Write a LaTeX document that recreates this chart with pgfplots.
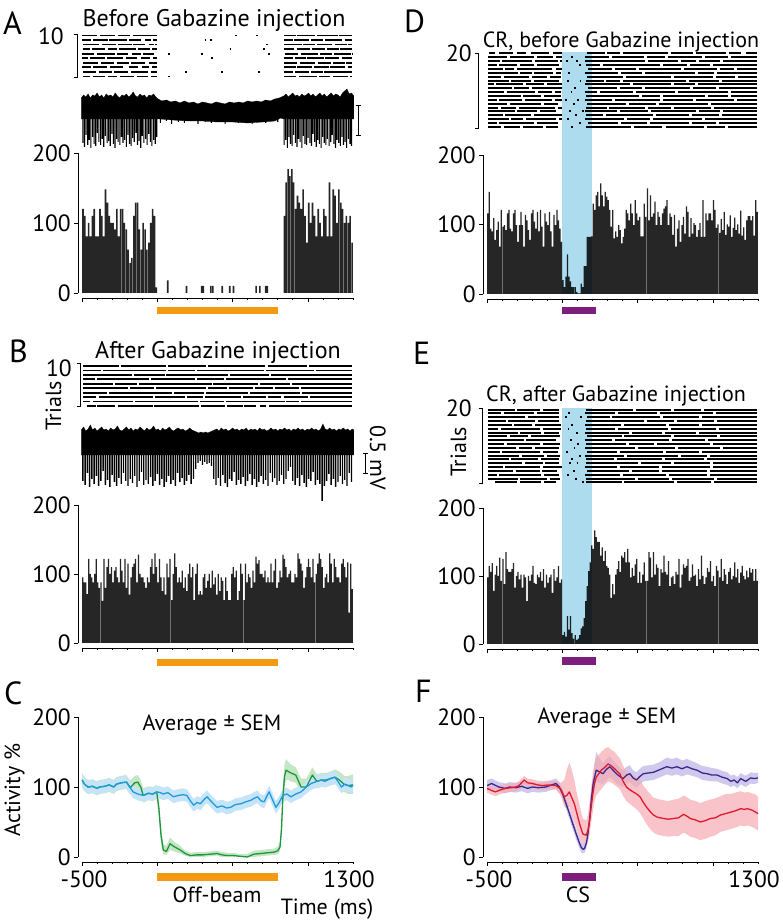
\documentclass[border=0pt]{standalone}
\usepackage{fontspec}
\setmainfont{PT Sans}
\usepackage{pgfplots}
\usepackage{pgfplotstable}
\pgfplotsset{compat=1.18}
\usepgfplotslibrary{fillbetween}

\newcommand\fs{\fontsize{22}{24}\selectfont}
\newcommand\fk{\fontsize{23.5}{25}\selectfont}
\newcommand\ft{\fontsize{24}{26}\selectfont}
\newcommand\fl{\fontsize{32}{34}\selectfont}

\definecolor{orng}{RGB}{242,154,18}
\definecolor{purp}{RGB}{125,30,125}
\definecolor{csblue}{RGB}{172,220,238}
\definecolor{lnblue}{RGB}{30,155,222}
\definecolor{bdblue}{RGB}{198,228,248}
\definecolor{lngreen}{RGB}{30,150,60}
\definecolor{bdgreen}{RGB}{196,230,196}
\definecolor{lnpurp}{RGB}{58,40,140}
\definecolor{bdpurp}{RGB}{196,186,232}
\definecolor{lnred}{RGB}{225,25,45}
\definecolor{bdred}{RGB}{245,170,178}

\pgfplotsset{
  base/.style={scale only axis, clip=false, width=275pt, xmin=-527, xmax=1300,
    anchor=south west, /pgf/number format/assume math mode=true,
    ticklabel style={font=\fk}},
  bare/.style={base, axis lines=none},
  framed/.style={base, axis y line*=left, axis x line=none, xtick=\empty,
    ymin=0, ymax=200, ytick={0,100,200}, tick align=outside, major tick length=4pt,
    axis line style={line width=0.6pt}, tick style={line width=0.6pt, black},
    yticklabel style={inner sep=1pt, xshift=-2pt}},
  % one raster dash per table row: start s, trial r, length l
  dashes/.style={black, line width=#1, mark=none, quiver={u=\thisrow{l}, v=0}},
  hist/.style={ybar, bar width=#1, fill=black, fill opacity=0.85, draw=none},
  spike/.style={ybar, bar width=#1, fill=black, draw=none},
}

% time axis under each panel: #1 = x of -500 ms, #2 = height of the line
\newcommand\taxis[2]{%
  \draw[line width=0.6pt] (#1,#2) -- ({#1+270.94},#2);
  \foreach \i in {0,...,18}{\draw[line width=0.6pt] ({#1+\i*15.052},#2) -- ++(0,-2.5);}
  \foreach \i in {0,5,10,15}{\draw[line width=0.6pt] ({#1+\i*15.052},#2) -- ++(0,-4.5);}
}
\newcommand\bracket[3]{\draw[line width=0.6pt] ({#1-3.5},#2) -- (#1,#2) -- (#1,#3) -- ({#1-3.5},#3);}

% averages, C panel
\pgfplotstableread{
t m lo hi
-500 110 100 118
-484 104 95 113
-460 100 91 109
-430 101 92 110
-400 98 89 107
-384 100 91 109
-350 101 92 110
-320 103 94 112
-290 100 91 109
-272 104 96 113
-240 106 97 115
-205 107 98 116
-180 99 90 108
-161 93 84 102
-130 90 81 99
-94 88 79 97
-60 91 82 100
-30 90 81 99
-4 93 84 102
20 92 83 101
40 90 81 99
70 92 83 101
107 86 77 95
140 88 79 97
170 89 80 98
196 88 79 97
220 80 71 89
241 74 65 83
265 78 69 87
286 76 67 85
310 82 73 91
330 86 77 95
360 79 70 88
397 71 62 80
430 73 64 82
460 70 61 79
487 71 62 80
520 75 66 84
554 76 67 85
590 79 70 88
621 81 72 90
645 84 75 93
665 86 77 95
690 80 71 89
710 79 70 88
730 88 79 97
743 93 84 102
765 82 73 91
788 71 62 80
810 78 69 87
833 88 79 97
860 90 81 99
888 86 77 95
920 90 81 99
955 93 84 102
990 100 91 109
1022 105 96 114
1060 108 99 117
1090 110 101 119
1112 108 99 117
1150 112 103 121
1179 114 105 123
1200 108 99 117
1223 100 91 110
1245 104 95 114
1268 102 93 112
1290 100 91 110
1300 103 94 113
}\Cblue
\pgfplotstableread{
t m lo hi
-500 110 100 120
-484 104 94 114
-460 100 90 110
-430 101 91 111
-400 98 88 108
-384 100 90 110
-350 101 91 111
-320 103 93 113
-290 100 90 110
-272 104 94 114
-240 106 96 116
-205 107 97 117
-180 99 89 109
-150 106 96 116
-130 107 97 117
-110 100 90 110
-94 88 78 98
-60 91 81 101
-30 90 80 100
-4 93 83 103
10 70 58 82
25 30 18 42
40 10 4 18
60 8 3 16
85 19 10 28
110 15 8 22
152 10 5 16
185 5 2 9
219 2 0 6
260 3 0 7
300 3 0 7
350 4 1 8
397 5 2 9
430 3 0 7
470 2 0 6
509 2 0 6
550 1 0 4
598 0 0 4
640 4 0 9
688 5 1 10
730 6 2 11
777 7 3 12
800 9 4 15
815 14 8 22
825 40 30 55
833 81 70 95
845 115 100 132
855 124 110 140
870 122 110 136
888 120 108 132
920 117 106 128
955 100 90 112
990 100 90 112
1030 117 106 128
1060 108 98 118
1090 110 100 120
1120 110 100 120
1150 112 102 122
1180 114 104 125
1210 110 100 122
1240 104 93 116
1270 102 90 116
1300 103 90 118
}\Cgreen
% averages, F panel
\pgfplotstableread{
t m lo hi
-500 102 95 110
-470 105 98 112
-422 100 93 107
-380 98 91 105
-350 100 93 107
-310 99 92 106
-270 101 94 108
-230 98 91 105
-199 100 93 107
-160 99 92 106
-109 100 93 107
-70 103 96 110
-42 105 98 112
-20 100 93 107
2 90 83 97
25 76 68 84
47 62 54 70
70 47 39 55
92 33 25 41
110 22 14 30
125 14 7 22
137 11 5 18
147 12 6 19
160 20 12 28
170 33 24 42
182 55 45 66
192 81 70 92
205 105 92 118
225 124 108 150
245 122 106 142
270 119 104 134
292 125 110 140
315 129 114 144
337 124 110 138
359 119 105 133
382 115 102 128
404 112 100 124
427 117 105 129
449 119 107 131
470 113 102 124
493 110 99 121
515 115 104 126
538 119 108 130
570 120 109 131
605 121 110 132
650 125 114 136
694 129 118 142
728 127 116 140
761 129 118 142
795 126 115 138
828 129 118 140
862 126 116 137
895 124 114 134
930 120 110 130
962 119 109 129
995 117 108 127
1029 117 108 126
1062 114 105 123
1096 112 103 121
1120 108 100 116
1141 110 102 118
1163 106 98 114
1185 112 104 120
1218 108 100 116
1252 113 105 121
1275 112 104 120
1300 113 106 120
}\Fpurp
\pgfplotstableread{
t m lo hi
-500 98 92 104
-470 95 89 101
-444 93 87 99
-410 96 90 102
-377 98 92 104
-340 99 93 105
-310 100 94 106
-288 102 96 108
-254 110 104 116
-230 106 100 112
-199 105 99 111
-165 103 97 109
-132 102 96 108
-90 103 97 109
-42 102 96 108
-10 97 88 106
13 86 72 110
30 88 70 125
47 93 72 135
62 85 60 125
80 76 50 110
97 62 40 90
114 48 28 75
136 33 18 55
158 31 16 52
170 38 22 60
181 52 32 78
192 72 50 100
203 90 65 120
214 105 80 135
225 114 88 142
259 124 97 150
282 128 103 155
304 133 108 157
326 130 106 153
348 126 103 150
365 122 100 145
382 119 97 141
404 108 87 130
426 100 80 122
448 96 76 118
471 93 72 116
494 90 68 114
516 86 63 110
538 78 55 102
560 71 47 96
583 65 40 90
605 60 35 85
630 57 32 83
672 55 30 81
705 54 29 80
739 55 30 82
772 56 30 83
806 61 35 88
830 58 32 85
850 55 29 82
884 53 27 80
917 50 24 77
950 52 26 80
984 55 29 82
1017 56 31 84
1051 60 36 87
1085 62 38 90
1118 64 40 90
1150 66 42 92
1185 69 45 94
1210 68 44 92
1230 69 45 93
1260 67 43 91
1285 64 40 89
1300 62 38 86
}\Fred

\begin{document}
\begin{tikzpicture}[x=1pt,y=1pt]
\path (0,0) rectangle (783,923);
% CS windows in D and E
\fill[csblue] (562.3,629) rectangle (592.4,871);
\fill[csblue] (562.3,279) rectangle (592.4,515);

%================ A =================
\begin{axis}[bare, at={(78pt,844.2pt)}, height=45.6pt, ymin=0.5, ymax=10.5]
\addplot[dashes=1.8pt] table[row sep=\\, x=s, y=r]{
s r l\\
-500 10 96\\ -380 10 100\\ -260 10 80\\ -160 10 156\\ 840 10 80\\ 930 10 120\\ 1060 10 140\\ 1205 10 90\\
-498 9 56\\ -430 9 100\\ -320 9 120\\ -190 9 80\\ -80 9 40\\ -30 9 30\\ 840 9 60\\ 910 9 100\\ 1020 9 80\\ 1115 9 110\\ 1245 9 50\\
-495 8 110\\ -365 8 90\\ -260 8 90\\ -160 8 80\\ -55 8 30\\ -15 8 12\\ 840 8 120\\ 970 8 80\\ 1060 8 100\\ 1180 8 80\\ 1265 8 30\\
-495 7 50\\ -435 7 90\\ -330 7 60\\ -255 7 110\\ -130 7 80\\ -35 7 30\\ 840 7 70\\ 925 7 90\\ 1025 7 90\\ 1130 7 80\\ 1215 7 80\\
-500 6 80\\ -400 6 120\\ -265 6 70\\ -170 6 60\\ -95 6 70\\ 845 6 90\\ 955 6 110\\ 1080 6 80\\ 1175 6 110\\ 1290 6 8\\
-498 5 36\\ -450 5 100\\ -335 5 110\\ -205 5 70\\ -110 5 60\\ -30 5 28\\ 840 5 60\\ 915 5 70\\ 995 5 110\\ 1115 5 90\\ 1225 5 70\\
-495 4 100\\ -375 4 90\\ -270 4 80\\ -175 4 90\\ -55 4 50\\ 840 4 90\\ 950 4 100\\ 1065 4 90\\ 1170 4 80\\ 1255 4 40\\
-498 3 56\\ -425 3 90\\ -315 3 90\\ -190 3 60\\ -105 3 50\\ -35 3 30\\ 840 3 80\\ 930 3 100\\ 1040 3 100\\ 1150 3 100\\ 1265 3 30\\
-495 2 90\\ -390 2 90\\ -285 2 90\\ -175 2 110\\ -45 2 40\\ 840 2 60\\ 915 2 90\\ 1020 2 80\\ 1110 2 100\\ 1210 2 80\\
-495 1 50\\ -430 1 80\\ -330 1 60\\ -245 1 90\\ -135 1 70\\ -45 1 40\\ 840 1 80\\ 940 1 120\\ 1075 1 70\\ 1170 1 100\\ 1280 1 15\\
71 6 12\\ 71 1 12\\ 182 2 12\\ 292 6 12\\ 314 9 12\\ 348 9 12\\ 359 5 12\\ 425 2 12\\ 480 7 12\\ 514 10 12\\ 657 10 12\\ 668 2 12\\ 702 7 12\\ 724 8 12\\ 735 6 12\\
};
\end{axis}

\begin{axis}[bare, at={(78pt,768pt)}, height=70pt, ymin=-40, ymax=30]
\addplot[fill=black, draw=black, line width=0.3pt] coordinates {
(-505,17)(-490,20)(-475,18)(-460,21)(-445,17)(-430,20)(-415,19)(-400,22)(-385,18)(-370,20)
(-355,17)(-340,21)(-325,19)(-310,20)(-295,18)(-280,22)(-265,19)(-250,17)(-235,20)(-220,19)
(-205,21)(-190,18)(-175,20)(-160,23)(-145,19)(-130,18)(-115,21)(-100,19)(-85,20)(-70,17)
(-55,20)(-40,19)(-25,21)(-10,18)(5,16)(30,14)(60,15)(90,13)(120,14)(150,12)(180,14)(210,12)
(240,13)(270,11)(300,13)(330,12)(360,11)(390,13)(420,12)(450,11)(480,13)(510,12)(540,13)
(570,12)(600,14)(630,13)(660,14)(690,13)(720,15)(750,14)(780,16)(810,17)(840,19)(855,21)
(870,18)(885,20)(900,22)(915,19)(930,20)(945,18)(960,21)(975,19)(990,20)(1005,22)(1020,19)
(1035,21)(1050,18)(1065,20)(1080,22)(1095,19)(1110,21)(1125,18)(1140,20)(1155,22)(1170,19)
(1185,21)(1200,20)(1215,18)(1230,22)(1245,24)(1260,26)(1275,21)(1290,22)(1305,19)
(1305,-4)(840,-4)(820,-3)(780,-6)(700,-7)(600,-8)(500,-7)(400,-7)(300,-6)(200,-6)(100,-5)
(20,-4)(0,-4)(-505,-4)} -- cycle;
\addplot[spike=1.1pt] coordinates {
(-495,-28)(-484,-32)(-473,-20)(-462,-30)(-452,-25)(-441,-33)(-430,-22)(-420,-29)(-409,-31)(-398,-18)
(-388,-27)(-377,-30)(-366,-24)(-356,-32)(-345,-21)(-334,-28)(-324,-26)(-313,-31)(-302,-19)(-292,-29)
(-281,-33)(-270,-24)(-260,-27)(-249,-30)(-238,-22)(-228,-28)(-217,-25)(-206,-32)(-196,-20)(-185,-29)
(-174,-31)(-164,-23)(-153,-27)(-142,-18)(-132,-30)(-121,-26)(-110,-33)(-100,-21)(-89,-28)(-78,-24)
(-68,-30)(-57,-19)(-46,-27)(-36,-31)(-25,-25)(-14,-29)(-4,-22)
(20,-8)(60,-6)(95,-9)(140,-7)(180,-8)(230,-6)(270,-9)(320,-7)(360,-8)(410,-6)(450,-9)(500,-7)
(540,-8)(590,-6)(630,-9)(680,-7)(720,-8)(770,-6)(800,-7)
(842,-30)(853,-25)(864,-33)(874,-22)(885,-29)(896,-31)(906,-20)(917,-28)(928,-32)(938,-24)
(949,-27)(960,-33)(970,-21)(981,-29)(992,-30)(1002,-23)(1013,-28)(1024,-31)(1034,-19)(1045,-27)
(1056,-32)(1066,-25)(1077,-29)(1088,-33)(1098,-22)(1109,-28)(1120,-30)(1130,-24)(1141,-31)(1152,-27)
(1162,-20)(1173,-29)(1184,-33)(1194,-25)(1205,-28)(1216,-31)(1226,-22)(1237,-30)(1248,-27)(1258,-33)
(1269,-24)(1280,-29)(1290,-31)};
\end{axis}

\begin{axis}[framed, at={(78pt,630pt)}, height=140pt]
\addplot[hist=1.6pt] coordinates {
(-494,120)(-481,110)(-469,81)(-456,100)(-444,81)(-431,110)(-419,120)(-406,81)(-394,81)(-381,120)
(-369,110)(-356,81)(-344,148)(-331,129)(-319,110)(-306,100)(-294,100)(-281,91)(-269,120)(-256,81)
(-244,120)(-231,120)(-219,100)(-206,91)(-194,62)(-181,43)(-169,50)(-156,110)(-144,129)(-131,129)
(-119,91)(-106,62)(-94,100)(-81,91)(-69,62)(-56,72)(-44,100)(-31,120)(-19,110)(-6,8)
(69,18)(194,10)(294,10)(306,10)(356,10)(369,10)(431,10)(481,10)(506,10)(656,10)(681,10)(719,10)(731,10)
(844,110)(856,158)(869,177)(881,167)(894,177)(906,158)(919,120)(931,139)(944,129)(956,120)
(969,148)(981,110)(994,72)(1006,129)(1019,100)(1031,129)(1044,110)(1056,81)(1069,120)(1081,100)
(1094,81)(1106,120)(1119,110)(1131,81)(1144,158)(1156,81)(1169,148)(1181,139)(1194,100)(1206,148)
(1219,129)(1231,120)(1244,100)(1256,110)(1269,100)(1281,110)(1294,72)};
\end{axis}

%================ B =================
\begin{axis}[bare, at={(78pt,514.8pt)}, height=44.4pt, ymin=0.5, ymax=10.5]
\addplot[dashes=1.8pt] table[row sep=\\, x=s, y=r]{
s r l\\
-495 10 240\\ -242 10 300\\ 70 10 255\\ 338 10 380\\ 732 10 265\\ 1010 10 285\\
-495 9 120\\ -362 9 420\\ 70 9 180\\ 262 9 450\\ 724 9 320\\ 1056 9 239\\
-495 8 330\\ -152 8 200\\ 60 8 410\\ 483 8 260\\ 755 8 540\\
-495 7 80\\ -402 7 350\\ -40 7 290\\ 262 7 180\\ 455 7 400\\ 868 7 427\\
-495 6 200\\ -283 6 150\\ -120 6 480\\ 372 6 300\\ 684 6 200\\ 897 6 398\\
-495 5 300\\ -180 5 160\\ -8 5 330\\ 334 5 130\\ 476 5 160\\ 648 5 120\\ 780 5 160\\ 952 5 343\\
-495 4 160\\ -320 4 420\\ 112 4 200\\ 324 4 280\\ 616 4 330\\ 958 4 337\\
-495 3 90\\ -390 3 360\\ -18 3 200\\ 195 3 110\\ 318 3 240\\ 571 3 150\\ 734 3 90\\ 840 3 160\\ 1014 3 281\\
-495 2 50\\ -430 2 270\\ -148 2 420\\ 284 2 160\\ 456 2 390\\ 858 2 80\\ 952 2 343\\
-470 1 60\\ -398 1 120\\ -260 1 230\\ -20 1 300\\ 292 1 160\\ 466 1 100\\ 578 1 80\\ 680 1 40\\ 740 1 555\\
};
\end{axis}

\begin{axis}[bare, at={(78pt,417pt)}, height=85pt, ymin=-55, ymax=30]
\addplot[fill=black, draw=black, line width=0.3pt] coordinates {
(-505,21)(-490,24)(-475,20)(-460,22)(-445,26)(-430,21)(-415,23)(-400,20)(-385,22)(-370,24)
(-355,21)(-340,22)(-325,20)(-310,23)(-295,21)(-280,22)(-265,25)(-250,21)(-235,20)(-220,22)
(-205,24)(-190,21)(-175,23)(-160,20)(-145,22)(-130,21)(-115,24)(-100,22)(-85,20)(-70,23)
(-55,21)(-40,22)(-25,25)(-10,21)(5,22)(20,20)(35,23)(50,21)(65,22)(80,24)(95,21)(110,20)
(125,22)(140,23)(155,21)(170,22)(185,20)(200,21)(215,23)(230,21)(245,20)(260,19)(275,18)
(290,19)(305,18)(320,19)(335,18)(350,19)(365,20)(380,21)(395,22)(410,20)(425,23)(440,21)
(455,22)(470,20)(485,21)(500,23)(515,21)(530,22)(545,20)(560,22)(575,21)(590,23)(605,20)
(620,22)(635,21)(650,22)(665,20)(680,23)(695,21)(710,22)(725,20)(740,21)(755,23)(770,21)
(785,22)(800,20)(815,22)(830,21)(845,23)(860,21)(875,22)(890,20)(905,22)(920,21)(935,23)
(950,21)(965,22)(980,20)(995,22)(1010,21)(1025,23)(1040,21)(1055,22)(1070,20)(1085,22)
(1100,27)(1115,22)(1130,21)(1145,23)(1160,21)(1175,22)(1190,20)(1205,22)(1220,21)(1235,23)
(1250,21)(1265,22)(1280,20)(1295,22)(1305,21)
(1305,-4)(-505,-4)} -- cycle;
\addplot[spike=1.4pt] coordinates {
(-495,-30)(-480,-34)(-465,-22)(-450,-36)(-435,-28)(-420,-33)(-405,-25)(-390,-35)(-375,-30)(-360,-20)
(-345,-34)(-330,-29)(-315,-36)(-300,-24)(-285,-31)(-270,-35)(-255,-27)(-240,-33)(-225,-22)(-210,-30)
(-195,-35)(-180,-28)(-165,-32)(-150,-25)(-135,-36)(-120,-30)(-105,-21)(-90,-34)(-75,-29)(-60,-33)
(-45,-26)(-30,-35)(-15,-30)(0,-23)(15,-34)(30,-28)(45,-36)(60,-31)(75,-25)(90,-33)
(105,-29)(120,-35)(135,-22)(150,-31)(165,-27)(180,-34)(195,-30)(210,-24)(225,-33)(240,-28)
(255,-18)(270,-12)(285,-10)(300,-14)(315,-11)(330,-13)(345,-12)(360,-15)(375,-28)(390,-34)
(405,-27)(420,-35)(435,-24)(450,-32)(465,-36)(480,-28)(495,-30)(510,-21)(525,-34)(540,-29)
(555,-33)(570,-26)(585,-35)(600,-30)(615,-23)(630,-34)(645,-28)(660,-36)(675,-31)(690,-25)
(705,-33)(720,-29)(735,-35)(750,-22)(765,-31)(780,-27)(795,-34)(810,-30)(825,-24)(840,-33)
(855,-28)(870,-20)(885,-16)(900,-30)(915,-34)(930,-27)(945,-35)(960,-24)(975,-32)(990,-36)
(1005,-28)(1020,-30)(1035,-21)(1050,-34)(1065,-29)(1080,-33)(1095,-50)(1110,-35)(1125,-30)(1140,-23)
(1155,-34)(1170,-28)(1185,-36)(1200,-31)(1215,-25)(1230,-33)(1245,-29)(1260,-35)(1275,-22)(1290,-31)};
\end{axis}

\begin{axis}[framed, at={(78pt,280pt)}, height=138pt]
\addplot[hist=1.25pt] coordinates {
(-495,95)(-485,88)(-475,88)(-465,71)(-455,122)(-445,100)(-435,95)(-425,88)(-415,100)(-405,122)
(-395,88)(-385,80)(-375,88)(-365,61)(-355,122)(-345,80)(-335,110)(-325,122)(-315,100)(-305,110)
(-295,88)(-285,105)(-275,110)(-265,95)(-255,88)(-245,122)(-235,105)(-225,88)(-215,122)(-205,80)
(-195,115)(-185,70)(-175,95)(-165,110)(-155,115)(-145,122)(-135,88)(-125,128)(-115,100)(-105,95)
(-95,95)(-85,88)(-75,80)(-65,95)(-55,88)(-45,110)(-35,122)(-25,100)(-15,130)(-5,110)
(5,88)(15,122)(25,95)(35,75)(45,95)(55,70)(65,115)(75,95)(85,122)(95,62)
(105,100)(115,130)(125,110)(135,88)(145,95)(155,88)(165,105)(175,80)(185,95)(195,75)
(205,100)(215,115)(225,95)(235,110)(245,62)(255,100)(265,115)(275,70)(285,75)(295,70)
(305,95)(315,100)(325,80)(335,90)(345,100)(355,80)(365,105)(375,85)(385,95)(395,70)
(405,100)(415,75)(425,95)(435,90)(445,62)(455,95)(465,75)(475,62)(485,62)(495,100)
(505,110)(515,95)(525,105)(535,62)(545,75)(555,115)(565,100)(575,62)(585,115)(595,88)
(605,100)(615,95)(625,80)(635,105)(645,88)(655,125)(665,115)(675,120)(685,100)(695,100)
(705,95)(715,105)(725,88)(735,95)(745,88)(755,115)(765,88)(775,105)(785,122)(795,80)
(805,88)(815,105)(825,95)(835,128)(845,122)(855,110)(865,95)(875,100)(885,105)(895,88)
(905,88)(915,100)(925,95)(935,130)(945,122)(955,115)(965,105)(975,80)(985,95)(995,110)
(1005,122)(1015,110)(1025,95)(1035,122)(1045,88)(1055,100)(1065,115)(1075,130)(1085,122)(1095,110)
(1105,80)(1115,95)(1125,100)(1135,88)(1145,130)(1155,115)(1165,88)(1175,122)(1185,110)(1195,95)
(1205,95)(1215,88)(1225,115)(1235,122)(1245,110)(1255,95)(1265,117)(1275,44)(1285,115)(1295,78)};
\end{axis}

%================ C =================
\begin{axis}[framed, at={(78pt,66pt)}, height=140pt]
\addplot[name path=gU, draw=none, forget plot] table[x=t, y=hi]{\Cgreen};
\addplot[name path=gL, draw=none, forget plot] table[x=t, y=lo]{\Cgreen};
\addplot[bdgreen, forget plot] fill between[of=gU and gL];
\addplot[name path=bU, draw=none, forget plot] table[x=t, y=hi]{\Cblue};
\addplot[name path=bL, draw=none, forget plot] table[x=t, y=lo]{\Cblue};
\addplot[bdblue, forget plot] fill between[of=bU and bL];
\addplot[lngreen, line width=1.3pt, line join=round] table[x=t, y=m]{\Cgreen};
\addplot[lnblue, line width=1.3pt, line join=round] table[x=t, y=m]{\Cblue};
\end{axis}

%================ D =================
\begin{axis}[bare, at={(483pt,794.1pt)}, height=77.4pt, ymin=0.5, ymax=20.5]
\addplot[dashes=2pt] table[row sep=\\, x=s, y=r]{
s r l\\
-490 20 40\\ -420 20 90\\ -300 20 60\\ -210 20 120\\ -60 20 55\\ 165 20 120\\ 300 20 80\\ 400 20 300\\ 720 20 150\\ 890 20 200\\ 1110 20 80\\ 1220 20 75\\
-495 19 130\\ -350 19 160\\ -170 19 110\\ -40 19 35\\ 60 19 12\\ 150 19 160\\ 330 19 210\\ 560 19 120\\ 700 19 230\\ 950 19 150\\ 1120 19 175\\
-495 18 80\\ -400 18 200\\ -180 18 150\\ -15 18 15\\ 25 18 12\\ 90 18 12\\ 150 18 400\\ 570 18 200\\ 790 18 100\\ 910 18 140\\ 1070 18 225\\
-495 17 60\\ -420 17 120\\ -280 17 90\\ -170 17 150\\ 110 17 12\\ 160 17 90\\ 270 17 380\\ 670 17 160\\ 850 17 130\\ 1000 17 295\\
-495 16 100\\ -380 16 60\\ -300 16 230\\ -40 16 40\\ 170 16 160\\ 350 16 140\\ 510 16 280\\ 810 16 220\\ 1050 16 90\\ 1160 16 135\\
-495 15 200\\ -280 15 80\\ -190 15 130\\ -40 15 30\\ 40 15 12\\ 150 15 220\\ 390 15 140\\ 550 15 330\\ 900 15 110\\ 1030 15 265\\
-495 14 90\\ -390 14 170\\ -200 14 100\\ -80 14 70\\ 165 14 240\\ 420 14 300\\ 740 14 260\\ 1020 14 130\\ 1170 14 125\\
-495 13 140\\ -340 13 130\\ -190 13 170\\ 30 13 12\\ 115 13 12\\ 155 13 120\\ 290 13 90\\ 400 13 420\\ 840 13 200\\ 1060 13 235\\
-495 12 40\\ -440 12 180\\ -240 12 120\\ -100 12 100\\ 150 12 300\\ 470 12 250\\ 740 12 140\\ 900 12 395\\
-495 11 160\\ -320 11 100\\ -200 11 200\\ 80 11 12\\ 170 11 190\\ 380 11 150\\ 550 11 300\\ 870 11 150\\ 1040 11 255\\
-495 10 110\\ -370 10 190\\ -160 10 90\\ -50 10 40\\ 55 10 12\\ 150 10 80\\ 250 10 220\\ 490 10 260\\ 770 10 330\\ 1120 10 175\\
-495 9 220\\ -260 9 120\\ -120 9 110\\ 160 9 350\\ 530 9 120\\ 670 9 280\\ 970 9 130\\ 1120 9 175\\
-495 8 60\\ -420 8 150\\ -250 8 180\\ -50 8 50\\ 20 8 12\\ 100 8 12\\ 150 8 180\\ 350 8 300\\ 670 8 200\\ 890 8 250\\ 1160 8 135\\
-495 7 130\\ -350 7 210\\ -120 7 90\\ 70 7 12\\ 165 7 260\\ 445 7 180\\ 640 7 330\\ 990 7 305\\
-495 6 70\\ -410 6 100\\ -290 6 240\\ -30 6 30\\ 155 6 140\\ 310 6 240\\ 570 6 150\\ 740 6 250\\ 1010 6 285\\
-495 5 180\\ -300 5 130\\ -150 5 110\\ 45 5 12\\ 130 5 12\\ 150 5 210\\ 380 5 190\\ 590 5 300\\ 910 5 140\\ 1070 5 225\\
-495 4 100\\ -380 4 170\\ -190 4 190\\ 85 4 12\\ 160 4 110\\ 290 4 310\\ 620 4 220\\ 860 4 180\\ 1060 4 235\\
-495 3 140\\ -340 3 80\\ -240 3 200\\ -20 3 20\\ 30 3 12\\ 150 3 260\\ 430 3 150\\ 600 3 330\\ 950 3 345\\
-495 2 60\\ -420 2 230\\ -170 2 140\\ 110 2 12\\ 170 2 200\\ 390 2 170\\ 580 2 260\\ 860 2 160\\ 1040 2 255\\
-495 1 90\\ -390 1 110\\ -260 1 130\\ -110 1 80\\ 60 1 12\\ 155 1 300\\ 475 1 190\\ 690 1 250\\ 960 1 120\\ 1100 1 195\\
};
\end{axis}

\begin{axis}[framed, at={(483pt,629pt)}, height=139pt]
\addplot[hist=1.25pt] coordinates {
(-495,116)(-485,147)(-475,94)(-465,90)(-455,109)(-445,78)(-435,92)(-425,104)(-415,68)(-405,121)
(-395,97)(-385,99)(-375,92)(-365,116)(-355,121)(-345,94)(-335,90)(-325,116)(-315,121)(-305,99)
(-295,75)(-285,99)(-275,118)(-265,99)(-255,68)(-245,114)(-235,106)(-225,92)(-215,78)(-205,116)
(-195,121)(-185,104)(-175,94)(-165,118)(-155,90)(-145,121)(-135,97)(-125,68)(-115,116)(-105,104)
(-95,99)(-85,118)(-75,90)(-65,68)(-55,114)(-45,99)(-35,121)(-25,106)(-15,94)(-5,75)
(5,20)(15,10)(25,25)(35,57)(45,25)(55,18)(65,10)(75,10)(85,10)(95,3)
(105,1)(115,1)(125,15)(135,10)(145,40)(155,40)(165,82)(175,82)(185,82)(195,83)
(205,130)(215,121)(225,142)(235,147)(245,126)(255,159)(265,142)(275,126)(285,147)(295,140)
(305,135)(315,121)(325,97)(335,121)(345,80)(355,90)(365,82)(375,99)(385,92)(395,73)
(405,82)(415,94)(425,121)(435,116)(445,106)(455,130)(465,116)(475,99)(485,135)(495,116)
(505,106)(515,111)(525,83)(535,83)(545,130)(555,111)(565,152)(575,106)(585,142)(595,111)
(605,116)(615,133)(625,99)(635,118)(645,111)(655,99)(665,116)(675,123)(685,126)(695,135)
(705,99)(715,116)(725,111)(735,85)(745,114)(755,68)(765,94)(775,106)(785,75)(795,99)
(805,111)(815,87)(825,126)(835,118)(845,82)(855,109)(865,87)(875,102)(885,99)(895,82)
(905,92)(915,102)(925,82)(935,135)(945,82)(955,116)(965,106)(975,116)(985,116)(995,106)
(1005,135)(1015,121)(1025,95)(1035,100)(1045,88)(1055,108)(1065,92)(1075,118)(1085,85)(1095,100)
(1105,97)(1115,113)(1125,82)(1135,95)(1145,110)(1155,92)(1165,100)(1175,87)(1185,120)(1195,84)
(1205,96)(1215,78)(1225,106)(1235,112)(1245,112)(1255,106)(1265,112)(1275,84)(1285,135)(1295,118)};
\end{axis}

%================ E =================
\begin{axis}[bare, at={(483pt,438.6pt)}, height=76.8pt, ymin=0.5, ymax=20.5]
\addplot[dashes=2pt] table[row sep=\\, x=s, y=r]{
s r l\\
-495 20 180\\ -300 20 150\\ -130 20 110\\ 160 20 310\\ 490 20 230\\ 740 20 180\\ 940 20 355\\
-495 19 90\\ -390 19 200\\ -170 19 150\\ 40 19 12\\ 150 19 200\\ 370 19 260\\ 650 19 350\\ 1020 19 275\\
-495 18 250\\ -230 18 210\\ 20 18 12\\ 120 18 12\\ 165 18 150\\ 330 18 320\\ 670 18 240\\ 930 18 365\\
-495 17 120\\ -360 17 180\\ -160 17 140\\ 155 17 390\\ 560 17 180\\ 760 17 250\\ 1030 17 265\\
-495 16 160\\ -320 16 120\\ -180 16 170\\ 60 16 12\\ 150 16 240\\ 410 16 280\\ 710 16 200\\ 930 16 365\\
-495 15 70\\ -410 15 260\\ -130 15 120\\ 35 15 12\\ 160 15 190\\ 370 15 330\\ 720 15 300\\ 1040 15 255\\
-495 14 200\\ -280 14 140\\ -120 14 100\\ 90 14 12\\ 150 14 290\\ 460 14 200\\ 680 14 210\\ 910 14 385\\
-495 13 130\\ -350 13 120\\ -210 13 195\\ 165 13 230\\ 410 13 310\\ 740 13 290\\ 1050 13 245\\
-495 12 240\\ -240 12 200\\ 50 12 12\\ 150 12 180\\ 350 12 360\\ 730 12 220\\ 970 12 325\\
-495 11 110\\ -370 11 220\\ -130 11 115\\ 100 11 12\\ 160 11 260\\ 440 11 170\\ 630 11 350\\ 1000 11 295\\
-495 10 190\\ -290 10 90\\ -180 10 160\\ 75 10 12\\ 150 10 330\\ 500 10 250\\ 770 10 280\\ 1070 10 225\\
-495 9 80\\ -400 9 250\\ -130 9 100\\ 25 9 12\\ 165 9 200\\ 380 9 290\\ 690 9 220\\ 930 9 365\\
-495 8 210\\ -270 8 150\\ -100 8 85\\ 110 8 12\\ 150 8 260\\ 430 8 340\\ 790 8 170\\ 980 8 315\\
-495 7 140\\ -340 7 180\\ -140 7 120\\ 60 7 12\\ 160 7 180\\ 360 7 300\\ 680 7 260\\ 960 7 335\\
-495 6 230\\ -250 6 120\\ -115 6 90\\ 45 6 12\\ 95 6 12\\ 155 6 350\\ 520 6 200\\ 740 6 240\\ 1000 6 295\\
-495 5 100\\ -380 5 230\\ -130 5 125\\ 150 5 210\\ 380 5 260\\ 660 5 320\\ 1000 5 295\\
-495 4 170\\ -310 4 160\\ -135 4 100\\ 70 4 12\\ 165 4 280\\ 460 4 180\\ 660 4 300\\ 980 4 315\\
-495 3 60\\ -420 3 280\\ -120 3 95\\ 30 3 12\\ 150 3 230\\ 400 3 290\\ 710 3 250\\ 980 3 315\\
-495 2 200\\ -280 2 180\\ -85 2 70\\ 85 2 12\\ 160 2 320\\ 500 2 210\\ 730 2 280\\ 1030 2 265\\
-450 1 150\\ -280 1 140\\ -120 1 80\\ 130 1 12\\ 155 1 240\\ 410 1 330\\ 760 1 230\\ 1010 1 285\\
};
\end{axis}

\begin{axis}[framed, at={(483pt,279pt)}, height=136pt]
\addplot[hist=1.25pt] coordinates {
(-495,98)(-485,115)(-475,106)(-465,119)(-455,78)(-445,102)(-435,115)(-425,100)(-415,127)(-405,93)
(-395,125)(-385,88)(-375,135)(-365,110)(-355,106)(-345,106)(-335,110)(-325,119)(-315,83)(-305,100)
(-295,106)(-285,95)(-275,102)(-265,83)(-255,102)(-245,98)(-235,63)(-225,100)(-215,93)(-205,102)
(-195,115)(-185,90)(-175,88)(-165,102)(-155,98)(-145,106)(-135,93)(-125,110)(-115,83)(-105,102)
(-95,90)(-85,98)(-75,102)(-65,75)(-55,110)(-45,93)(-35,98)(-25,115)(-15,90)(-5,95)
(5,13)(15,18)(25,11)(35,41)(45,21)(55,41)(65,16)(75,8)(85,13)(95,6)
(105,8)(115,13)(125,23)(135,26)(145,38)(155,63)(165,85)(175,107)(185,120)(195,145)
(205,140)(215,167)(225,157)(235,150)(245,150)(255,130)(265,142)(275,122)(285,137)(295,115)
(305,112)(315,102)(325,68)(335,88)(345,73)(355,102)(365,110)(375,122)(385,106)(395,130)
(405,127)(415,135)(425,120)(435,140)(445,120)(455,98)(465,112)(475,100)(485,117)(495,125)
(505,90)(515,106)(525,90)(535,102)(545,120)(555,93)(565,93)(575,135)(585,127)(595,98)
(605,135)(615,102)(625,117)(635,112)(645,85)(655,110)(665,105)(675,130)(685,106)(695,102)
(705,122)(715,85)(725,98)(735,100)(745,88)(755,106)(765,102)(775,125)(785,83)(795,102)
(805,117)(815,112)(825,115)(835,125)(845,93)(855,98)(865,117)(875,100)(885,102)(895,85)
(905,110)(915,95)(925,130)(935,100)(945,88)(955,98)(965,112)(975,106)(985,122)(995,92)
(1005,100)(1015,85)(1025,115)(1035,108)(1045,98)(1055,125)(1065,93)(1075,110)(1085,102)(1095,88)
(1105,106)(1115,112)(1125,95)(1135,100)(1145,120)(1155,98)(1165,110)(1175,90)(1185,105)(1195,115)
(1205,100)(1215,95)(1225,108)(1235,98)(1245,112)(1255,105)(1265,110)(1275,93)(1285,110)(1295,93)};
\end{axis}

%================ F =================
\begin{axis}[framed, at={(483pt,66pt)}, height=140pt]
\addplot[name path=pU, draw=none, forget plot] table[x=t, y=hi]{\Fpurp};
\addplot[name path=pL, draw=none, forget plot] table[x=t, y=lo]{\Fpurp};
\addplot[bdpurp, fill opacity=0.8, forget plot] fill between[of=pU and pL];
\addplot[name path=rU, draw=none, forget plot] table[x=t, y=hi]{\Fred};
\addplot[name path=rL, draw=none, forget plot] table[x=t, y=lo]{\Fred};
\addplot[bdred, fill opacity=0.7, forget plot] fill between[of=rU and rL];
\addplot[lnpurp, line width=1.3pt, line join=round] table[x=t, y=m]{\Fpurp};
\addplot[lnred, line width=1.3pt, line join=round] table[x=t, y=m]{\Fred};
\end{axis}

%================ decorations =================
\taxis{82.06}{625}
\taxis{82.06}{275}
\taxis{82.06}{61}
\taxis{487.06}{624}
\taxis{487.06}{274}
\taxis{487.06}{61}
\fill[orng] (157.3,609) rectangle (277.7,616);
\fill[orng] (157.3,257) rectangle (277.7,264);
\fill[orng] (157.3,42) rectangle (277.7,50);
\fill[purp] (562.3,609) rectangle (596.2,616);
\fill[purp] (562.3,258) rectangle (596.2,266);
\fill[purp] (562.3,42) rectangle (596.2,50);

\bracket{77}{889}{846}
\bracket{80}{560}{517}
\bracket{478}{870}{795}
\bracket{482}{515}{440}
\node[font=\fk, anchor=base east, inner sep=0pt] at (64,878) {10};
\node[font=\fk, anchor=base east, inner sep=0pt] at (72,546) {10};
\node[font=\fk, anchor=base east, inner sep=0pt] at (472,861) {20};
\node[font=\fk, anchor=base east, inner sep=0pt] at (472,506) {20};
\node[font=\fs, rotate=90, anchor=base, inner sep=0pt] at (61,517) {Trials};
\node[font=\fs, rotate=90, anchor=base, inner sep=0pt] at (466,471) {Trials};
\node[font=\fs, rotate=90, anchor=base, inner sep=0pt] at (20,133) {Activity \%};

% scale bars
\draw[line width=0.8pt] (355.5,818) -- (360.5,818) (358,818) -- (358,788) (355.5,788) -- (360.5,788);
\draw[line width=0.8pt] (362.5,470) -- (367.5,470) (365,470) -- (365,450) (362.5,450) -- (367.5,450);
\node[font=\fs, rotate=-90, anchor=base, inner sep=0pt] at (370,465.5) {0.5 mV};

% titles and labels
\node[font=\ft, anchor=base, inner sep=0pt] at (214,896) {Before Gabazine injection};
\node[font=\ft, anchor=base, inner sep=0pt] at (218,564) {After Gabazine injection};
\node[font=\fs, anchor=base, inner sep=0pt] at (621,875) {CR, before Gabazine injection};
\node[font=\fs, anchor=base, inner sep=0pt] at (616,521) {CR, after Gabazine injection};
\node[font=\fs, anchor=base, inner sep=0pt] at (212,192) {Average ± SEM};
\node[font=\fs, anchor=base, inner sep=0pt] at (607,199) {Average ± SEM};
\node[font=\fk, anchor=base, inner sep=0pt] at (84,35) {-500};
\node[font=\fk, anchor=base, inner sep=0pt] at (349,35) {1300};
\node[font=\fk, anchor=base, inner sep=0pt] at (489,35) {-500};
\node[font=\fk, anchor=base, inner sep=0pt] at (754,35) {1300};
\node[font=\fs, anchor=base, inner sep=0pt] at (217,20) {Off-beam};
\node[font=\fs, anchor=base, inner sep=0pt] at (327,9) {Time (ms)};
\node[font=\fs, anchor=base, inner sep=0pt] at (578,20) {CS};

\node[font=\fl, anchor=base west, inner sep=0pt] at (3,888) {A};
\node[font=\fl, anchor=base west, inner sep=0pt] at (9,560) {B};
\node[font=\fl, anchor=base west, inner sep=0pt] at (4,218) {C};
\node[font=\fl, anchor=base west, inner sep=0pt] at (404,890) {D};
\node[font=\fl, anchor=base west, inner sep=0pt] at (413,558) {E};
\node[font=\fl, anchor=base west, inner sep=0pt] at (415,220) {F};
\end{tikzpicture}
\end{document}
